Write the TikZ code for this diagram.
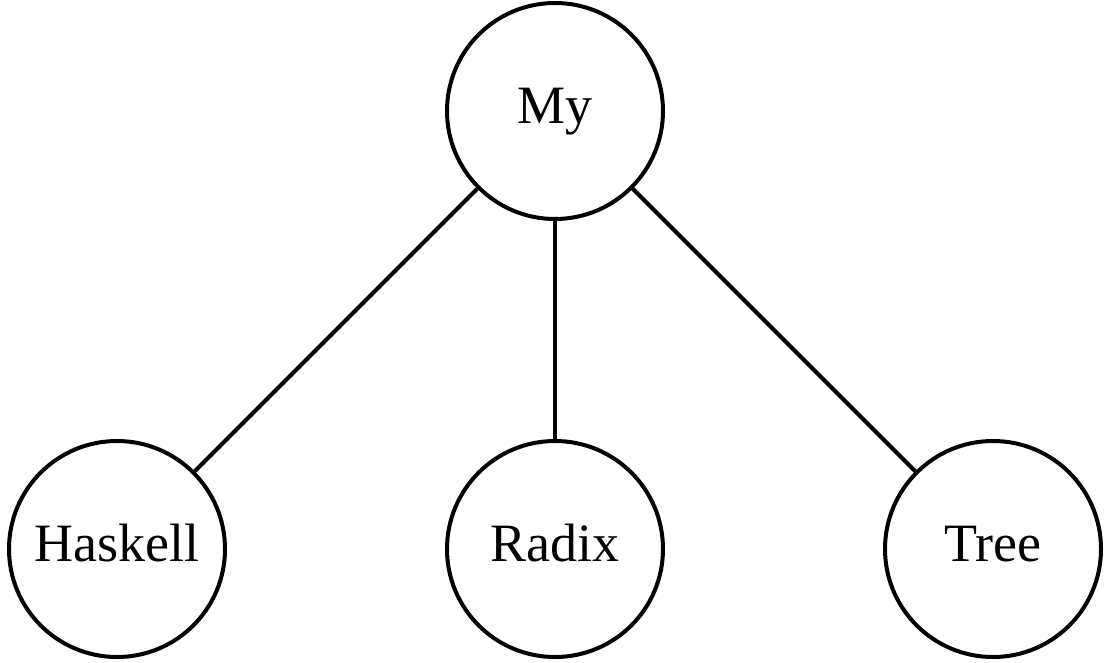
\documentclass[tikz,border=0pt]{standalone}
\usepackage{fontspec}
\setmainfont{Liberation Serif}
\usepackage{tikz}

\begin{document}
\begin{tikzpicture}[x=1pt,y=-1pt,word/.style={circle,draw,line width=4pt,minimum size=216pt,inner sep=0pt,text height=36pt,text depth=12pt,font=\fontsize{54}{60}\selectfont},link/.style={line width=4pt}]
    \useasboundingbox (0,0) rectangle (1116,662);
    \node[word] (my) at (555,111) {My};
    \node[word] (haskell) at (117,549) {Haskell};
    \node[word] (radix) at (555,549) {Radix};
    \node[word] (tree) at (993,549) {Tree};
    \foreach \n in {haskell,radix,tree} {
        \draw[link] (my) -- (\n);
    }
\end{tikzpicture}
\end{document}
